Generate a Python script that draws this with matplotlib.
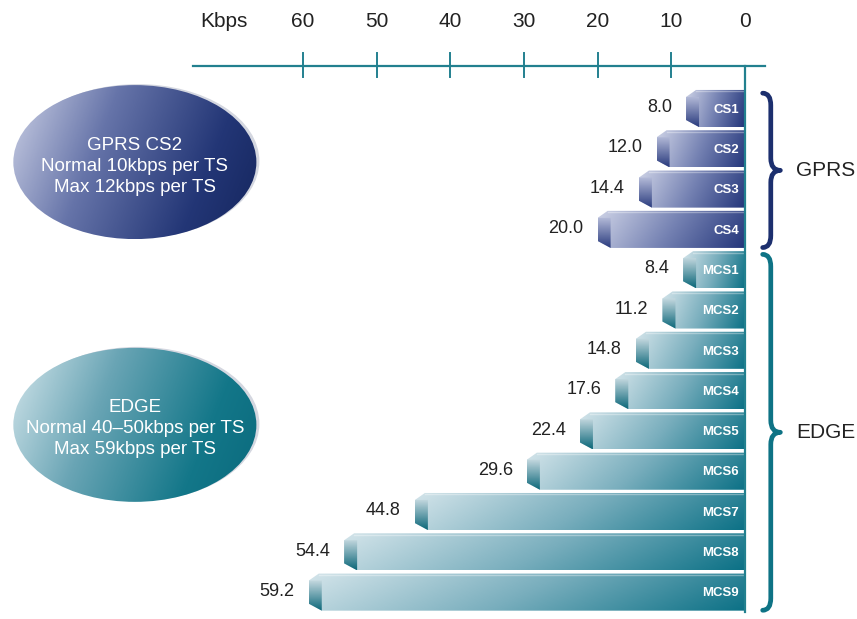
import numpy as np
import matplotlib.pyplot as plt
from matplotlib.colors import LinearSegmentedColormap
from matplotlib.patches import Polygon, Ellipse, PathPatch
from matplotlib.path import Path

plt.rcParams['font.family'] = ['Liberation Sans', 'DejaVu Sans']

# data
schemes = ['CS1', 'CS2', 'CS3', 'CS4',
           'MCS1', 'MCS2', 'MCS3', 'MCS4', 'MCS5', 'MCS6', 'MCS7', 'MCS8', 'MCS9']
rates = [8.0, 12.0, 14.4, 20.0,
         8.4, 11.2, 14.8, 17.6, 22.4, 29.6, 44.8, 54.4, 59.2]
groups = ['GPRS'] * 4 + ['EDGE'] * 9
group_names = ['GPRS', 'EDGE']
ticks = [60, 50, 40, 30, 20, 10, 0]
axis_unit = 'Kbps'
notes = {'GPRS': 'GPRS CS2\nNormal 10kbps per TS\nMax 12kbps per TS',
         'EDGE': 'EDGE\nNormal 40\u201350kbps per TS\nMax 59kbps per TS'}

# colours
body_cmaps = {
    'GPRS': LinearSegmentedColormap.from_list('g', ['#cdd2e6', '#7481b2', '#23357a']),
    'EDGE': LinearSegmentedColormap.from_list('e', ['#d3e4ea', '#79aebd', '#0c7186']),
}
face_cmaps = {
    'GPRS': LinearSegmentedColormap.from_list('gf', ['#b4bbd9', '#2b3c7e']),
    'EDGE': LinearSegmentedColormap.from_list('ef', ['#c4d8df', '#0d687a']),
}
ell_cmaps = {
    'GPRS': LinearSegmentedColormap.from_list(
        'ge', [(0, '#cbd0e5'), (0.35, '#6674a9'), (0.75, '#233676'), (1, '#15265e')]),
    'EDGE': LinearSegmentedColormap.from_list(
        'ee', [(0, '#d2e5eb'), (0.35, '#6aa5b5'), (0.75, '#137789'), (1, '#0a6a7d')]),
}
brace_col = {'GPRS': '#1c2f6e', 'EDGE': '#0e7385'}
axis_col = '#22808f'
text_col = '#222222'

fig = plt.figure(figsize=(8.57, 6.19), dpi=100)
ax = fig.add_axes([0, 0, 1, 1])
ax.axis('off')

px = 1 / 7.367      # one pixel in x data units
py = 1 / 40.3       # one pixel in y data units

nx, ny = 256, 32
X, Y = np.meshgrid(np.linspace(0, 1, nx), np.linspace(0, 1, ny))
grad_body = 0.85 * X + 0.15 * Y
grad_face = Y
ell_grad = 0.8 * X + 0.2 * Y


def gradient_fill(verts, grad, cmap, extent, z):
    patch = Polygon(verts, closed=True, facecolor='none', edgecolor='none', zorder=z)
    ax.add_patch(patch)
    im = ax.imshow(grad, cmap=cmap, extent=extent, aspect='auto',
                   origin='upper', interpolation='bilinear', zorder=z)
    im.set_clip_path(patch)


# bars
h = 0.92
cap_w = 13 * px
cut_x = 10 * px
cut_y = 7 * py
for i, (name, val, g) in enumerate(zip(schemes, rates, groups)):
    top, bot = i - h / 2, i + h / 2
    body = [(val, top + cut_y), (val - cut_x, top), (0, top), (0, bot),
            (val - cap_w, bot), (val, bot - cut_y)]
    gradient_fill(body, grad_body, body_cmaps[g], (val, 0, bot, top), 2)
    face = [(val, top + cut_y), (val - cap_w, top + cut_y),
            (val - cap_w, bot), (val, bot - cut_y)]
    gradient_fill(face, grad_face, face_cmaps[g], (val, val - cap_w, bot, top + cut_y), 3)
    ax.plot([val - cut_x, 0], [top + 1.5 * py, top + 1.5 * py], color='white',
            alpha=0.35, lw=1, zorder=4)
    ax.text(0.8, i + 0.03, name, ha='right', va='center', color='white',
            fontsize=9.5, fontweight='bold', zorder=5)
    ax.text(val + 14 * px, i - 0.02, f'{val:.1f}', ha='right', va='center',
            color=text_col, fontsize=13, zorder=5)

# top axis
axis_y = -1.05
ax.plot([74.9, -2.7], [axis_y, axis_y], color=axis_col, lw=1.6, zorder=6)
for t in ticks:
    if t == 0:
        ax.plot([0, 0], [axis_y, len(rates) - 0.5], color=axis_col, lw=1.6, zorder=6)
    else:
        ax.plot([t, t], [axis_y - 0.33, axis_y + 0.27], color=axis_col, lw=1.4, zorder=6)
    ax.text(t, -2.17, str(t), ha='center', va='center', fontsize=15, color=text_col)
ax.text(70.7, -2.17, axis_unit, ha='center', va='center', fontsize=15, color=text_col)

# group braces, labels and notes
for g in group_names:
    idx = [i for i, gg in enumerate(groups) if gg == g]
    top, bot = idx[0] - 0.38, idx[-1] + 0.45
    mid = (top + bot) / 2
    xh, xs, xt = -2.4, -3.5, -4.8
    r = 0.3
    verts = [(xh, top), (xs, top), (xs, top + r),
             (xs, mid - r),
             (xs, mid), (xt, mid),
             (xs, mid), (xs, mid + r),
             (xs, bot - r),
             (xs, bot), (xh, bot)]
    codes = [Path.MOVETO, Path.CURVE3, Path.CURVE3, Path.LINETO,
             Path.CURVE3, Path.CURVE3, Path.CURVE3, Path.CURVE3,
             Path.LINETO, Path.CURVE3, Path.CURVE3]
    ax.add_patch(PathPatch(Path(verts, codes), facecolor='none',
                           edgecolor=brace_col[g], lw=3.4, capstyle='round',
                           joinstyle='round', zorder=6))
    ax.text(-11.0, mid, g, ha='center', va='center', fontsize=15, color=text_col)

    # note ellipse
    cy = 1.33 if g == 'GPRS' else 7.85
    cx, ew, eh = 82.8, 243 * px, 154 * py
    rim = Ellipse((cx - 3 * px, cy - 1 * py), ew, eh, facecolor='#d4d7e0',
                  edgecolor='none', zorder=1)
    ax.add_patch(rim)
    ell = Ellipse((cx, cy), ew, eh, facecolor='none', edgecolor='none', zorder=2)
    ax.add_patch(ell)
    im = ax.imshow(ell_grad, cmap=ell_cmaps[g],
                   extent=(cx + ew / 2, cx - ew / 2, cy + eh / 2, cy - eh / 2),
                   aspect='auto', origin='upper', interpolation='bilinear', zorder=2)
    im.set_clip_path(ell)
    ax.text(cx, cy + 0.1, notes[g], ha='center', va='center', color='white',
            fontsize=13.5, linespacing=1.3, zorder=3)

ax.set_xlim(101.1, -15.2)
ax.set_ylim(12.667, -2.692)

plt.savefig('out.png', dpi=100)
